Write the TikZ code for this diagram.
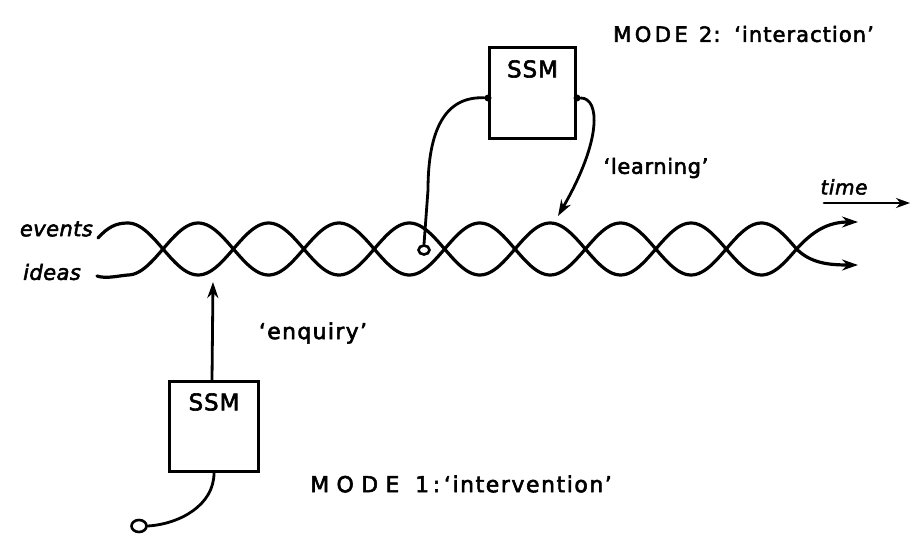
\documentclass[tikz,border=0pt]{standalone}
\usepackage{fontspec}
\setmainfont{DejaVu Sans}[FakeBold=1.6]
\usetikzlibrary{arrows.meta,shapes.geometric}
\newcommand{\hand}[2][0]{\fontsize{#2}{#2}\selectfont\addfontfeatures{FakeBold=2.6,LetterSpace=#1}}
\begin{document}
\begin{tikzpicture}[x=1pt,y=-1pt,
  strand/.style={line width=3.2pt,line cap=round,line join=round},
  wire/.style={line width=2.8pt,line cap=round},
  ssmbox/.style={draw,line width=3pt,minimum width=86pt,minimum height=91pt,inner sep=0pt,anchor=north west},
  boxtext/.style={font={\hand[4]{23}}},
  port/.style={circle,fill,inner sep=0pt,minimum size=7pt},
  loopend/.style={ellipse,draw,line width=2.6pt,inner sep=0pt},
  tip/.style={-{Stealth[length=16pt,width=11pt]}},
  handlabel/.style={inner sep=0pt},
  modelabel/.style={inner sep=0pt,anchor=west}]
\useasboundingbox (0,0) rectangle (911,535);

% the two strands: events and ideas, twisting along time
\coordinate (evS) at (98,238);
\coordinate (idS) at (97,276);
\coordinate (evE) at (858,222);
\coordinate (idE) at (858,265);
\draw[strand,tip] (evS) .. controls (108,227) and (116,223) .. (127.8,223)
  -- plot[domain=127.8:797,samples=240,smooth] (\x,{249-26*cos(2.5568*(\x-127.8))})
  .. controls (813,231) and (828,222) .. (evE);
\draw[strand,tip] (idS) .. controls (106,279) and (117,276) .. (127.8,275)
  -- plot[domain=127.8:797,samples=240,smooth] (\x,{249+26*cos(2.5568*(\x-127.8))})
  .. controls (811,263) and (828,265) .. (idE);

\node[font={\hand[2]{21}\itshape},anchor=east,inner sep=0pt] (events) at (93,229) {events};
\node[font={\hand[2]{21}\itshape},anchor=east,inner sep=0pt] (ideas) at (81,272) {ideas};

% time arrow
\coordinate (tS) at (824,203);
\coordinate (tE) at (910,203);
\draw[wire,-{Stealth[length=14pt,width=10pt]}] (tS) -- (tE);
\node[font={\hand[3]{20}\itshape},inner sep=0pt] (time) at (844,187) {time};

% mode 2: interaction
\node[ssmbox] (ssm2) at (488,46) {};
\node[boxtext] (ssm2t) at ([yshift=-23pt]ssm2.north) {SSM};
\node[port] (p2l) at ([yshift=-52pt]ssm2.north west) {};
\node[port] (p2r) at ([yshift=-52pt]ssm2.north east) {};
\node[loopend,minimum width=11pt,minimum height=9pt] (loop2) at (424,250) {};
\coordinate (learnTip) at (558,216);
\draw[wire] (p2l) .. controls (445,96) and (428,130) .. (428,190) -- (loop2.north);
\draw[wire,tip] (p2r) .. controls (600,98) and (602,140) .. (learnTip);
\node[handlabel,font={\hand[3]{21}}] (learning) at (656,168) {`learning'};
\node[modelabel,font={\hand[5]{21}}] (mode2) at (613,34) {M\,O\,D\,E\, 2:\, `interaction'};

% mode 1: intervention
\node[ssmbox,minimum width=89pt,minimum height=90pt] (ssm1) at (168,380) {};
\node[boxtext] (ssm1t) at ([yshift=-22pt]ssm1.north) {SSM};
\node[loopend,minimum width=15pt,minimum height=12pt] (loop1) at (139,526) {};
\coordinate (enqTip) at (213,282);
\draw[wire,tip] ([xshift=-2pt]ssm1.north) -- (enqTip);
\draw[wire] (ssm1.south) .. controls (214,505) and (180,524) .. (loop1.east);
\node[handlabel,font={\hand[6]{22}}] (enquiry) at (313,333) {`enquiry'};
\node[modelabel,font={\hand[7]{22}}] (mode1) at (310,484) {M\,\,O\,\,D\,\,E\,\, 1\,:\,`intervention'};
\end{tikzpicture}
\end{document}
